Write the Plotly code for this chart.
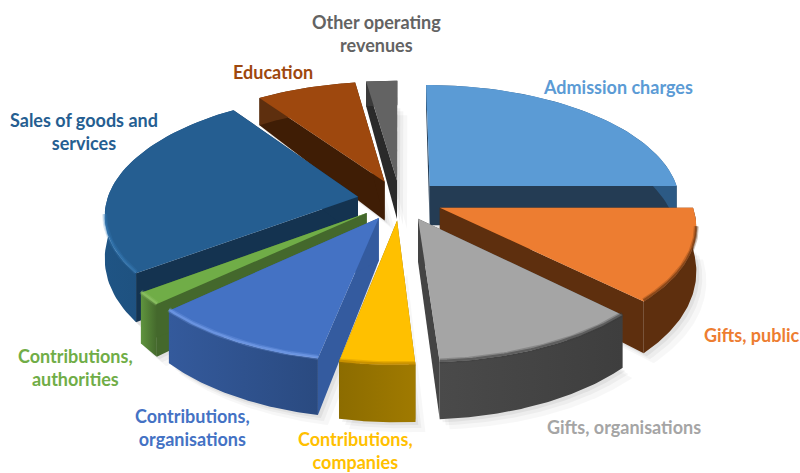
import numpy as np
import plotly.graph_objects as go

# ---- data ----
categories = ["Admission charges", "Gifts, public", "Gifts, organisations",
              "Contributions, companies", "Contributions, organisations",
              "Contributions, authorities", "Sales of goods and services",
              "Education", "Other operating revenues"]
shares = [25.0, 12.4, 11.6, 4.1, 10.0, 1.7, 25.5, 7.4, 2.3]

top_colors = ["#5b9bd5", "#ed7d31", "#a5a5a5", "#ffc000", "#4472c4", "#70ad47", "#255e91", "#9e480e", "#636363"]
cut_colors = ["#243c54", "#5e2f0e", "#444444", "#8a6a00", "#345b9f", "#44682c", "#143350", "#3f1d05", "#2a2a2a"]
wall_left = ["#2c5a85", "#5e2f0e", "#4a4a4a", "#8c6c00", "#345a9c", "#5f943e", "#1f5484", "#5e2f0e", "#3a3a3a"]
wall_right = ["#2c5a85", "#5e2f0e", "#3e3e3e", "#a07a00", "#2a4a80", "#44682c", "#1c4a75", "#5e2f0e", "#3a3a3a"]
bevel = ["rgba(30,70,110,0.5)", "rgba(94,47,14,0.55)", "rgba(60,60,60,0.55)", "rgba(170,120,0,0.5)",
         "rgba(120,160,235,0.6)", "rgba(150,200,110,0.5)", "rgba(60,130,190,0.4)", "rgba(60,30,10,0.4)", "rgba(60,60,60,0.3)"]

# label text, position, and slice it belongs to
label_text = ["Admission charges", "Gifts, public", "Gifts, organisations",
              "Contributions,<br>companies", "Contributions,<br>organisations",
              "Contributions,<br>authorities", "Sales of goods and<br>services",
              "Education", "Other operating<br>revenues"]
label_x = [618, 751, 624, 355, 192, 75, 84, 273, 376]
label_y = [87, 335, 427, 450, 427, 367, 131, 72, 33]

# back-to-front painting order
paint_order = [8, 7, 0, 6, 1, 5, 2, 4, 3]

# ---- projection settings ----
CX, CY, A, B, K, PULL = 400, 200, 251, 118.4, 0.137, 0.17


def project(X, Y):
    s = 1 / (1 + K * Y)
    return CX + A * X * s, CY - B * Y * s


def height(Y):
    return 41 - 14 * Y


vals = np.array(shares) / sum(shares) * 2 * np.pi
ends = np.cumsum(vals)
starts = ends - vals

fig = go.Figure()


def poly(x, y, color, color2=None, name=""):
    kw = dict(fillcolor=color)
    if color2 is not None:
        kw = dict(fillgradient=dict(type="horizontal", colorscale=[[0, color], [1, color2]]))
    fig.add_trace(go.Scatter(x=list(x), y=list(y), mode="lines", fill="toself",
                             line=dict(width=0, color=color), hoverinfo="skip", name=name, **kw))


geom = []
for i in range(len(shares)):
    a0, a1 = starts[i], ends[i]
    mid = (a0 + a1) / 2
    ox, oy = PULL * np.sin(mid), PULL * np.cos(mid)
    t = np.linspace(a0, a1, 60)
    RX, RY = ox + np.sin(t), oy + np.cos(t)
    geom.append((ox, oy, RX, RY))

# soft shadow beneath the pie
for i in paint_order:
    ox, oy, RX, RY = geom[i]
    X, Y = np.r_[ox, RX], np.r_[oy, RY]
    sx, sy = project(X, Y)
    for d, al in [(10, 0.03), (6, 0.04), (3, 0.05)]:
        poly(sx + d, sy + height(Y) + d, f"rgba(0,0,0,{al})")

for i in paint_order:
    ox, oy, RX, RY = geom[i]
    ax, ay = project(ox, oy)
    ah = height(oy)
    rx, ry = project(RX, RY)
    rh = height(RY)
    # cut faces
    for j in (0, -1):
        poly([ax, rx[j], rx[j], ax], [ay, ry[j], ry[j] + rh[j], ay + ah], cut_colors[i])
    # outer wall
    poly(np.r_[rx, rx[::-1]], np.r_[ry, (ry + rh)[::-1]], wall_left[i], wall_right[i])
    # top face
    poly(np.r_[ax, rx], np.r_[ay, ry], top_colors[i])
    # bevel along front rim
    front = RY - oy < -0.15
    if front.sum() > 2:
        for w, fade in ((5, 0.5), (2.5, 1.0)):
            fig.add_trace(go.Scatter(x=rx[front], y=(ry - 1)[front], mode="lines", hoverinfo="skip",
                                     opacity=fade, line=dict(width=w, color=bevel[i])))

anns = []
for n, (t, x, y) in enumerate(zip(label_text, label_x, label_y)):
    anns.append(dict(x=x, y=y, text=t, showarrow=False, xref="x", yref="y", align="center",
                     font=dict(family="Lato", size=18, color=top_colors[n], weight="bold")))

fig.update_layout(width=800, height=473, margin=dict(l=0, r=0, t=0, b=0), showlegend=False,
                  paper_bgcolor="white", plot_bgcolor="white", annotations=anns,
                  xaxis=dict(range=[0, 800], visible=False, fixedrange=True),
                  yaxis=dict(range=[473, 0], visible=False, fixedrange=True))
fig.write_html("out.html", config={"displayModeBar": False},
               post_script="document.body.style.margin='0';document.body.style.overflow='hidden';")
